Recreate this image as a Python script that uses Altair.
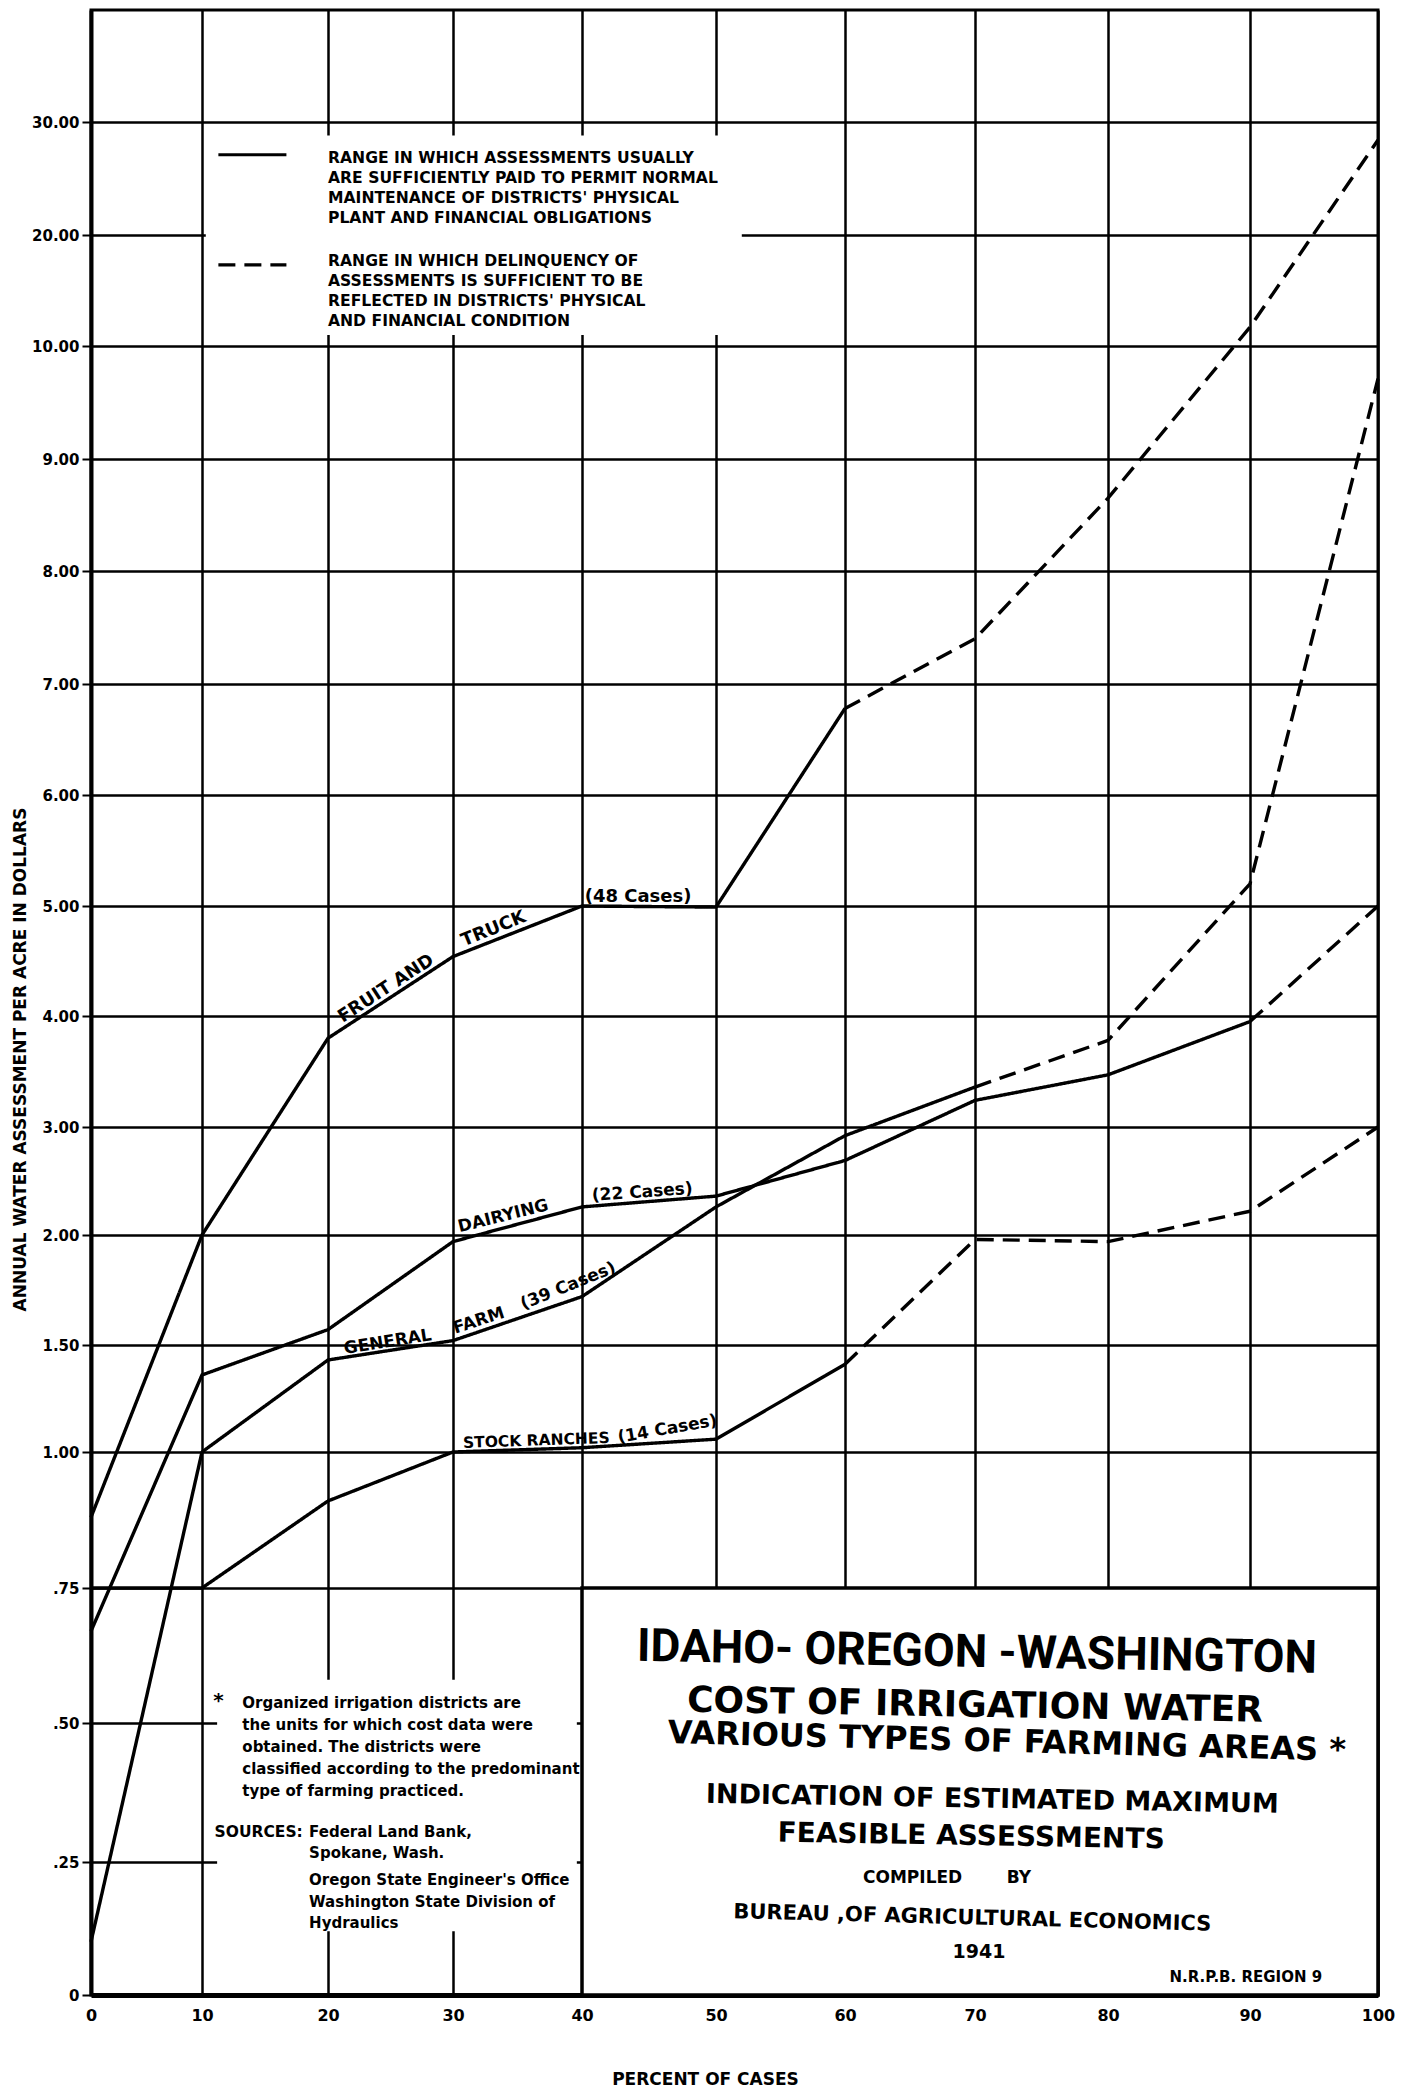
import altair as alt
import pandas as pd

# ---------------- data ----------------
PCT = [0, 10, 20, 30, 40, 50, 60, 70, 80, 90, 100]
SERIES = ["Fruit and Truck", "Dairying", "General Farm", "Stock Ranches"]
FRUIT_TRUCK = [0.88, 2.00, 3.80, 4.54, 5.00, 4.99, 6.78, 7.40, 8.65, 11.7, 28.4]
DAIRYING = [0.67, 1.36, 1.57, 1.97, 2.26, 2.36, 2.69, 3.24, 3.47, 3.95, 5.00]
GENERAL_FARM = [0.10, 1.00, 1.43, 1.52, 1.72, 2.26, 2.92, 3.36, 3.78, 5.20, 9.71]
STOCK_RANCHES = [0.75, 0.75, 0.91, 1.00, 1.02, 1.06, 1.41, 1.98, 1.97, 2.22, 3.00]
SOLID_UNTIL = [60, 90, 70, 60]   # last percent drawn solid; beyond it dashed

Y_TICKS = [0, 0.25, 0.5, 0.75, 1, 1.5, 2, 3, 4, 5, 6, 7, 8, 9, 10, 20, 30]

# ---------------- layout (printed ruling of the sheet) ----------------
W, H = 1287, 1985
X_RANGE = [0, 111, 237, 362, 491, 625, 754, 884, 1017, 1159, 1287]
Y_DOMAIN = Y_TICKS + [40]
Y_RANGE = [1985, 1852, 1713, 1578, 1442, 1335, 1225, 1117, 1006, 896, 785, 674,
           561, 449, 336, 225, 112, 0]
FONT = "DejaVu Sans"
TFONT = "Roboto"

rows = []
for name, vals, lim in zip(SERIES, [FRUIT_TRUCK, DAIRYING, GENERAL_FARM, STOCK_RANCHES], SOLID_UNTIL):
    for p, v in zip(PCT, vals):
        if p <= lim:
            rows.append(dict(series=name, grp=name + " solid", style="solid", pct=p, value=v))
        if p >= lim:
            rows.append(dict(series=name, grp=name + " dashed", style="dashed", pct=p, value=v))
lines_df = pd.DataFrame(rows)

XS = alt.Scale(domain=PCT, range=X_RANGE)
YS = alt.Scale(domain=Y_DOMAIN, range=Y_RANGE)
DASH = alt.Scale(domain=["solid", "dashed"], range=[[1, 0], [17, 9]])


def xe(f="pct"):
    return alt.X(f + ":Q", scale=XS)


def ye(f="value"):
    return alt.Y(f + ":Q", scale=YS)


# base layer: carries axes and grid
base = alt.Chart(lines_df).mark_line(opacity=0).encode(
    x=alt.X("pct:Q", scale=XS, axis=alt.Axis(
        values=PCT, format="d", grid=True, gridColor="black", gridWidth=2.5, gridOpacity=1,
        ticks=False, domainColor="black", domainWidth=5, labelFont=FONT, labelFontSize=16,
        labelFontWeight="bold", labelColor="black", labelPadding=12, labelFlush=False,
        title="PERCENT OF CASES", titleFont=FONT, titleFontSize=17, titleFontWeight="bold",
        titleColor="black", titleX=614, titleY=76, titleAnchor="middle")),
    y=alt.Y("value:Q", scale=YS, axis=alt.Axis(
        values=Y_TICKS, grid=True, gridColor="black", gridWidth=2.5, gridOpacity=1,
        ticks=True, tickSize=9, tickWidth=2, tickColor="black",
        domainColor="black", domainWidth=4, labelFont=FONT, labelFontSize=15,
        labelFontWeight="bold", labelColor="black", labelPadding=3, labelOverlap=False,
        labelFlush=False,
        labelExpr="datum.value == 0 ? '0' : (datum.value < 1 ? slice(format(datum.value, '.2f'), 1) : format(datum.value, '.2f'))",
        title="ANNUAL WATER ASSESSMENT PER ACRE IN DOLLARS", titleFont=FONT, titleFontSize=17,
        titleFontWeight="bold", titleColor="black", titleX=-71, titleY=1049, titleAngle=270,
        titleAnchor="middle", titleBaseline="middle", titleAlign="center")),
)

# white areas of the sheet (legend, notes) and the title box
MASK_X0 = [10.3, 11.2]
MASK_X1 = [52.0, 39.6]
MASK_Y0 = [11.0, 0.12]
MASK_Y1 = [28.8, 0.58]
mask_df = pd.DataFrame(dict(pct=MASK_X0, pct2=MASK_X1, value=MASK_Y0, value2=MASK_Y1))
masks = alt.Chart(mask_df).mark_rect(fill="white", strokeWidth=0).encode(
    x=xe(), x2="pct2:Q", y=ye(), y2="value2:Q")

box_df = pd.DataFrame(dict(pct=[40], pct2=[100], value=[0], value2=[0.75]))
box = alt.Chart(box_df).mark_rect(fill="white", stroke="black", strokeWidth=3.5).encode(
    x=xe(), x2="pct2:Q", y=ye(), y2="value2:Q")

series_lines = alt.Chart(lines_df).mark_line(color="black", strokeWidth=3.4, strokeJoin="round").encode(
    x=xe(), y=ye(), detail="grp:N",
    strokeDash=alt.StrokeDash("style:N", scale=DASH, legend=None),
    order="pct:Q")

# legend samples
leg_df = pd.DataFrame(dict(pct=[11.3, 11.3], pct2=[16.7, 16.7], value=[27.1, 17.3],
                           style=["solid", "dashed"]))
leg_rules = alt.Chart(leg_df).mark_rule(color="black", strokeWidth=3.2).encode(
    x=xe(), x2="pct2:Q", y=ye(),
    strokeDash=alt.StrokeDash("style:N", scale=DASH, legend=None))


def label(text, x, y, size, align="left", baseline="middle", angle=0, lh=None,
          font=FONT, weight="bold", dy=0):
    kw = dict(text=text, fontSize=size, align=align, baseline=baseline, font=font,
              fontWeight=weight, color="black")
    if angle:
        kw["angle"] = angle
    if lh:
        kw["lineHeight"] = lh
    if dy:
        kw["dy"] = dy
    return alt.Chart(alt.Data(values=[{"pct": x, "value": y}])).mark_text(**kw).encode(
        x=xe(), y=ye())


texts = [
    # legend
    label(["RANGE IN WHICH ASSESSMENTS USUALLY",
           "ARE SUFFICIENTLY PAID TO PERMIT NORMAL",
           "MAINTENANCE OF DISTRICTS' PHYSICAL",
           "PLANT AND FINANCIAL OBLIGATIONS"], 20.0, 27.43, 15.6, baseline="top", lh=20),
    label(["RANGE IN WHICH DELINQUENCY OF",
           "ASSESSMENTS IS SUFFICIENT TO BE",
           "REFLECTED IN DISTRICTS' PHYSICAL",
           "AND FINANCIAL CONDITION"], 20.0, 18.29, 15.6, baseline="top", lh=20),
    # labels along the curves
    label("FRUIT AND", 21.4, 3.90, 18, baseline="alphabetic", angle=327, dy=-5),
    label("TRUCK", 31.0, 4.59, 18, baseline="alphabetic", angle=338, dy=-5),
    label("(48 Cases)", 40.2, 5.0, 18, baseline="alphabetic", dy=-4),
    label("DAIRYING", 30.6, 1.99, 17, baseline="alphabetic", angle=346, dy=-5),
    label("(22 Cases)", 40.8, 2.27, 17, baseline="alphabetic", angle=356, dy=-5),
    label("GENERAL", 21.4, 1.44, 17, baseline="alphabetic", angle=351, dy=-4),
    label("FARM", 30.3, 1.53, 17, baseline="alphabetic", angle=342, dy=-5),
    label("(39 Cases)", 35.6, 1.64, 17, baseline="alphabetic", angle=338, dy=-5),
    label("STOCK RANCHES", 30.8, 1.0, 15.5, baseline="alphabetic", angle=358, dy=-4),
    label("(14 Cases)", 42.8, 1.02, 17, baseline="alphabetic", angle=350, dy=-5),
    # notes
    label("*", 10.9, 0.540, 20),
    label(["Organized irrigation districts are",
           "the units for which cost data were",
           "obtained. The districts were",
           "classified according to the predominant",
           "type of farming practiced."], 13.2, 0.550, 15, baseline="top", lh=22),
    label("SOURCES:", 11.0, 0.316, 15.5, baseline="top"),
    label(["Federal Land Bank,", "Spokane, Wash."], 18.5, 0.316, 15, baseline="top", lh=21),
    label(["Oregon State Engineer's Office",
           "Washington State Division of",
           "Hydraulics"], 18.5, 0.229, 15, baseline="top", lh=21.5),
    # title box
    label("IDAHO- OREGON -WASHINGTON", 70.15, 0.630, 46, align="center", angle=1, font=TFONT),
    label("COST  OF  IRRIGATION  WATER", 70.0, 0.532, 36, align="center", angle=1),
    label("VARIOUS TYPES OF  FARMING AREAS *", 72.4, 0.466, 32, align="center", angle=1.5),
    label("INDICATION OF ESTIMATED MAXIMUM", 71.3, 0.362, 27, align="center", angle=1),
    label("FEASIBLE ASSESSMENTS", 69.7, 0.295, 28, align="center", angle=1),
    label("COMPILED", 65.2, 0.219, 17, align="center"),
    label("BY", 73.3, 0.219, 17, align="center"),
    label("BUREAU ,OF AGRICULTURAL ECONOMICS", 69.8, 0.144, 21, align="center", angle=1.5),
    label("1941", 70.3, 0.080, 19, align="center"),
    label("N.R.P.B. REGION 9", 89.7, 0.034, 15, align="center"),
]

chart = alt.layer(base, masks, box, series_lines, leg_rules, *texts).properties(
    width=W, height=H,
    autosize=alt.AutoSizeParams(type="none"),
    padding={"left": 83, "top": 2, "right": 18, "bottom": 100},
    background="white",
).configure_view(stroke="black", strokeWidth=3)

chart.save("out.html", embed_options={"renderer": "svg", "actions": False})
